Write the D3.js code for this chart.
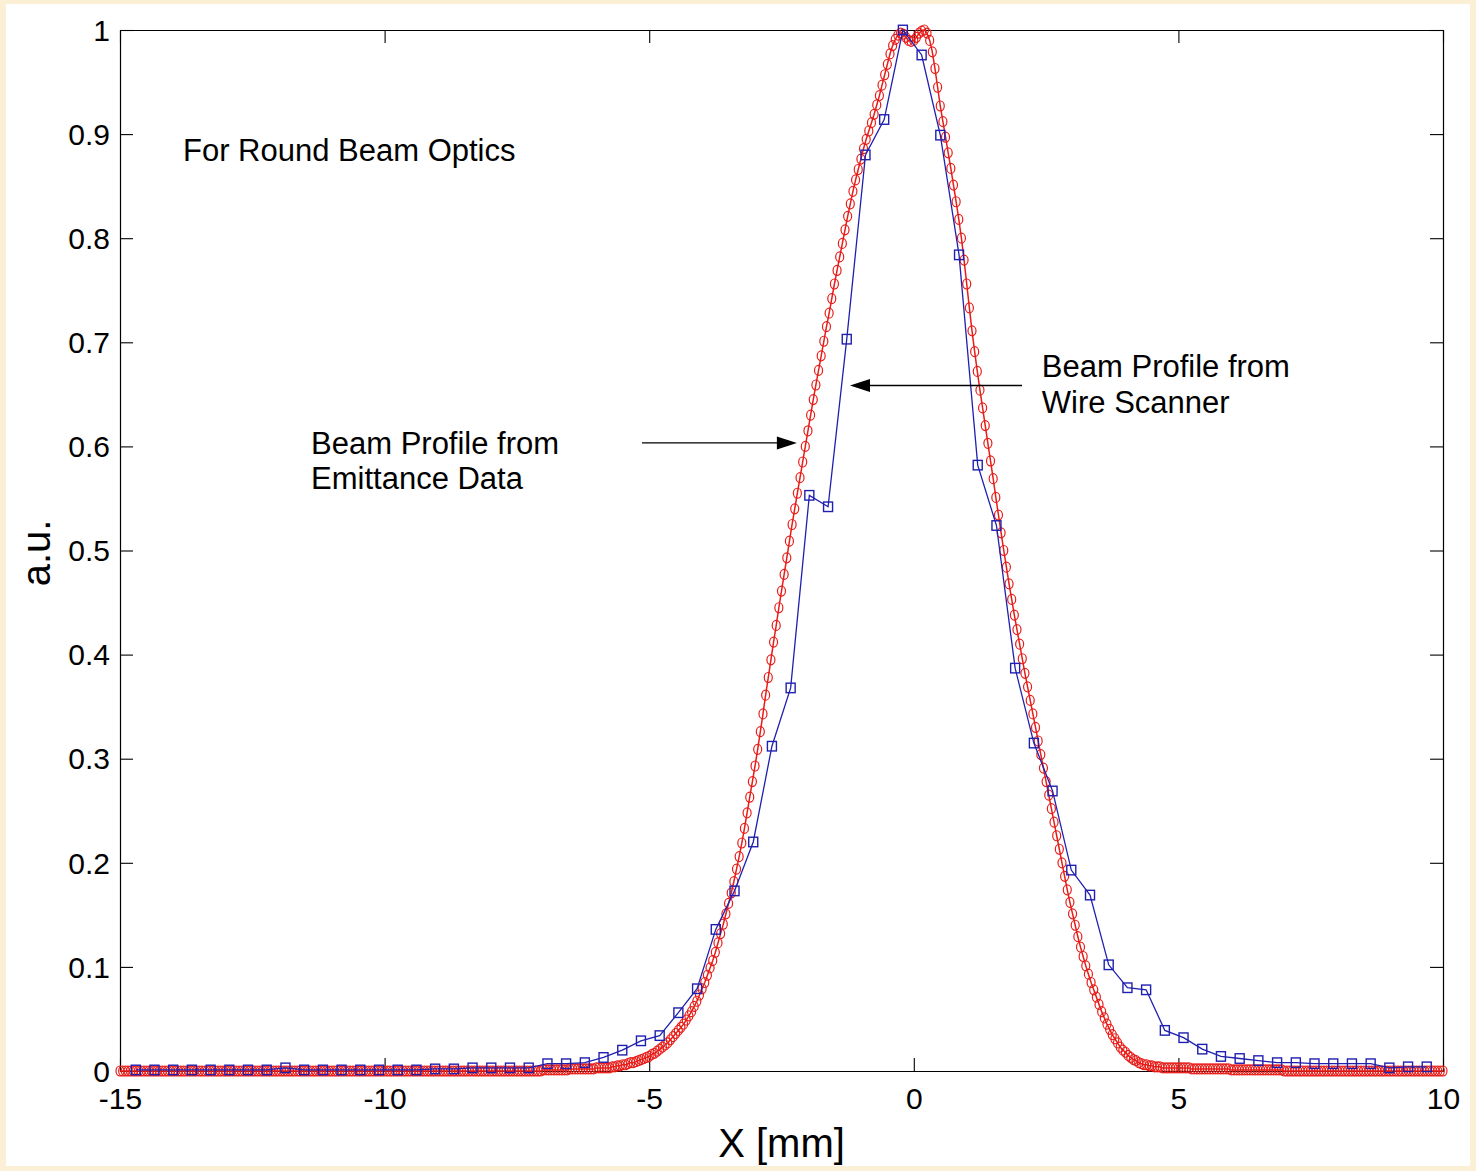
<!DOCTYPE html>
<html><head><meta charset="utf-8">
<script src="https://cdn.jsdelivr.net/npm/d3@7"></script>
<style>
html,body{margin:0;padding:0;background:#fbefd6;}
svg{display:block;}
</style>
</head><body>
<svg id="chart" width="1476" height="1171"></svg>
<script>
// ---------- DATA ----------
// Beam profile from emittance data (red circles), sampled every 0.05 mm from -15 mm
const redX0 = -15;
const redStep = 0.05;
const redValues = [
0,0,0,0,0,0,0,0,0,0, 0,0,0,0,0,0,0,0,0,0,
0,0,0,0,0,0,0,0,0,0, 0,0,0,0,0,0,0,0,0,0,
0,0,0,0,0,0,0,0,0,0, 0,0,0,0,0,0,0,0,0,0,
0,0,0,0,0,0,0,0,0,0, 0,0,0,0,0,0,0,0,0,0,
0,0,0,0,0,0,0,0,0,0, 0,0,0,0,0,0,0,0,0,0,
0,0,0,0,0,0,0,0,0,0, 0,0,0,0,0,0,0,0,0,0,
0,0,0,0,0,0,0,0,0,0, 0,0,0,0,0,0,0,0,0,0,
0,0,0,0,0,0,0,0,0,0, 0,0,0,0,0,0,0,0,0,0,
0.001,0.001,0.001,0.001,0.001,0.001,0.001,0.001,0.001,0.001,
0.002,0.002,0.002,0.002,0.002,0.002,0.002,0.002,0.002,0.002,
0.003,0.003,0.003,0.003,0.003,0.003,
0.004,0.004,0.005,0.005,0.006,0.006,0.007,0.008,0.008,0.009,0.010,0.011,0.012,0.013,
0.014,0.016,0.017,0.019,0.021,0.023,0.025,0.027,0.030,0.033,0.036,0.039,0.042,0.045,0.049,0.053,0.057,0.062,0.067,0.073,
0.079,0.085,0.092,0.099,0.106,0.114,0.123,0.132,0.141,0.151,0.161,0.171,0.182,0.194,0.206,0.219,0.233,0.248,0.263,0.278,
0.293,0.309,0.326,0.343,0.361,0.378,0.395,0.412,0.428,0.445,0.461,0.477,0.493,0.509,0.525,0.540,0.555,0.570,0.585,0.600,
0.615,0.630,0.645,0.659,0.673,0.687,0.701,0.715,0.728,0.742,0.756,0.769,0.782,0.795,0.808,0.821,0.833,0.845,0.856,0.866,
0.876,0.886,0.895,0.903,0.911,0.919,0.928,0.937,0.947,0.957,0.967,0.977,0.985,0.991,0.995,0.997,0.996,0.993,0.990,0.989,
0.990,0.993,0.997,0.999,1.000,0.997,0.990,0.979,0.963,0.945,0.927,0.912,0.897,0.882,0.867,0.851,0.835,0.818,0.800,0.779,
0.756,0.733,0.711,0.691,0.672,0.654,0.637,0.620,0.603,0.586,0.569,0.551,0.534,0.517,0.500,0.484,0.468,0.453,0.438,0.424,
0.410,0.396,0.382,0.369,0.356,0.343,0.330,0.317,0.304,0.291,0.278,0.265,0.252,0.239,0.226,0.213,0.200,0.187,0.174,0.162,
0.151,0.140,0.129,0.119,0.110,0.101,0.093,0.085,0.078,0.071,0.064,0.057,0.051,0.045,0.040,0.035,0.031,0.027,0.023,0.020,
0.018,0.015,0.013,0.011,0.010,0.008,0.007,0.006,0.006,0.005,0.005,0.004,0.004,0.004,
0.003,0.003,0.003,0.003,0.003,0.003,0.003,0.003,0.003,0.003,0.003,
0.002,0.002,0.002,0.002,0.002,0.002,0.002,0.002,0.002,0.002,0.002,0.002,0.002,0.002,0.002,
0.001,0.001,0.001,0.001,0.001,0.001,0.001,0.001,0.001,0.001,
0.001,0.001,0.001,0.001,0.001,0.001,0.001,0.001,0.001,0.001,
0,0,0,0,0,0,0,0,0,0, 0,0,0,0,0,0,0,0,0,0,
0,0,0,0,0,0,0,0,0,0, 0,0,0,0,0,0,0,0,0,0,
0,0,0,0,0,0,0,0,0,0, 0,0,0,0,0,0,0,0,0,0,
0
];

// Beam profile from wire scanner (blue squares)
const blueX = [
-14.702,-14.348,-13.994,-13.641,-13.287,-12.934,-12.580,-12.227,-11.873,-11.520,
-11.166,-10.813,-10.459,-10.105,-9.752,-9.398,-9.045,-8.691,-8.338,-7.984,
-7.631,-7.277,-6.923,-6.570,-6.216,-5.863,-5.509,-5.156,-4.802,-4.449,
-4.095,-3.742,-3.388,-3.034,-2.681,-2.327,-1.974,-1.620,-1.267,-0.913,
-0.560,-0.206,0.148,0.501,0.855,1.208,1.562,1.915,2.269,2.622,
2.976,3.330,3.683,4.037,4.390,4.744,5.097,5.451,5.804,6.158,
6.511,6.865,7.219,7.572,7.926,8.279,8.633,8.986,9.340,9.693
];
const blueValues = [
0.001,0.001,0.001,0.001,0.001,0.001,0.001,0.001,0.003,0.001,
0.001,0.001,0.001,0.001,0.001,0.001,0.002,0.002,0.003,0.003,
0.003,0.003,0.007,0.007,0.008,0.013,0.020,0.029,0.034,0.056,
0.079,0.136,0.173,0.220,0.312,0.368,0.553,0.542,0.703,0.880,
0.914,1.000,0.976,0.899,0.784,0.582,0.524,0.387,0.315,0.269,
0.193,0.169,0.102,0.080,0.078,0.039,0.032,0.021,0.014,0.012,
0.010,0.008,0.008,0.007,0.007,0.007,0.007,0.003,0.004,0.004
];

const xTicks = [-15,-10,-5,0,5,10];
const xTickLabels = ["-15","-10","-5","0","5","10"];
const yTicks = [0,0.1,0.2,0.3,0.4,0.5,0.6,0.7,0.8,0.9,1];
const yTickLabels = ["0","0.1","0.2","0.3","0.4","0.5","0.6","0.7","0.8","0.9","1"];

const xLabel = "X [mm]";
const yLabel = "a.u.";
const noteTitle = "For Round Beam Optics";
const noteEmittance = ["Beam Profile from","Emittance Data"];
const noteWire = ["Beam Profile from","Wire Scanner"];

// ---------- DRAW ----------
(function(){
const W = 1476, H = 1171;
const pL = 120, pR = 1443, pT = 30, pB = 1071;
const FONT = "'Liberation Sans', Arial, Helvetica, sans-serif";
const RED = "#e81c18", BLUE = "#2020b0";

const svg = d3.select("#chart");
svg.append("rect").attr("x",0).attr("y",0).attr("width",W).attr("height",H).attr("fill","#fbefd6");
svg.append("rect").attr("x",6).attr("y",4).attr("width",W-12).attr("height",H-9).attr("fill","#ffffff");

const x = d3.scaleLinear().domain([-15,10]).range([pL,pR]);
const y = d3.scaleLinear().domain([0,1]).range([pB,pT]);

const redData = redValues.map((v,i)=>({x: redX0 + i*redStep, y: v}));
const blueData = blueValues.map((v,i)=>({x: blueX[i], y: v}));

function styleAxis(g){
  g.select(".domain").attr("stroke","#000").attr("stroke-width",1.2);
  g.selectAll(".tick line").attr("stroke","#000").attr("stroke-width",1.1);
  g.selectAll(".tick text").attr("fill","#000").style("font-family",FONT).style("font-size","30px");
}
const gx = svg.append("g").attr("transform",`translate(0,${pB})`)
  .call(d3.axisBottom(x).tickValues(xTicks).tickFormat((d,i)=>xTickLabels[i]).tickSizeInner(-13).tickSizeOuter(0).tickPadding(17));
styleAxis(gx);
const gxt = svg.append("g").attr("transform",`translate(0,${pT})`)
  .call(d3.axisTop(x).tickValues(xTicks).tickFormat("").tickSizeInner(-13).tickSizeOuter(0));
styleAxis(gxt);
const gy = svg.append("g").attr("transform",`translate(${pL},0)`)
  .call(d3.axisLeft(y).tickValues(yTicks).tickFormat((d,i)=>yTickLabels[i]).tickSizeInner(-13).tickSizeOuter(0).tickPadding(10));
styleAxis(gy);
gy.selectAll(".tick text").attr("dy","0.34em");
const gyr = svg.append("g").attr("transform",`translate(${pR},0)`)
  .call(d3.axisRight(y).tickValues(yTicks).tickFormat("").tickSizeInner(-13).tickSizeOuter(0));
styleAxis(gyr);

const line = d3.line().x(d=>x(d.x)).y(d=>y(d.y));
svg.append("path").datum(redData).attr("d",line)
  .attr("fill","none").attr("stroke",RED).attr("stroke-width",1.5);
svg.append("g").selectAll("ellipse").data(redData).join("ellipse")
  .attr("cx",d=>x(d.x)).attr("cy",d=>y(d.y)).attr("rx",4).attr("ry",5)
  .attr("fill","none").attr("stroke",RED).attr("stroke-width",1.2);

svg.append("path").datum(blueData).attr("d",line)
  .attr("fill","none").attr("stroke",BLUE).attr("stroke-width",1.3);
svg.append("g").selectAll("rect").data(blueData).join("rect")
  .attr("x",d=>x(d.x)-4.5).attr("y",d=>y(d.y)-4.75).attr("width",9).attr("height",9.5)
  .attr("fill","none").attr("stroke",BLUE).attr("stroke-width",1.4);

svg.append("text").attr("x",(pL+pR)/2).attr("y",1157).attr("text-anchor","middle")
  .style("font-family",FONT).style("font-size","40px").text(xLabel);
svg.append("text").attr("transform","translate(50,553) rotate(-90)").attr("text-anchor","middle")
  .style("font-family",FONT).style("font-size","40px").text(yLabel);

function note(lines, xv, yv, lh){
  const t = svg.append("text").attr("x",x(xv)).attr("y",y(yv))
    .style("font-family",FONT).style("font-size","31px").attr("fill","#000");
  lines.forEach((s,i)=>t.append("tspan").attr("x",x(xv)).attr("dy", i===0?0:lh).text(s));
}
note([noteTitle], -13.81, 0.874, 0);
note(noteEmittance, -11.39, 0.593, 35);
note(noteWire, 2.42, 0.667, 36);

function arrow(x1v, x2v, yv){
  const x1 = x(x1v), x2 = x(x2v), yy = y(yv);
  const dir = Math.sign(x2-x1);
  svg.append("line").attr("x1",x1).attr("y1",yy).attr("x2",x2 - dir*18).attr("y2",yy)
    .attr("stroke","#000").attr("stroke-width",1.3);
  svg.append("path")
    .attr("d",`M${x2},${yy} L${x2-dir*20},${yy-6.5} L${x2-dir*20},${yy+6.5} Z`)
    .attr("fill","#000");
}
arrow(-5.136, -2.209, 0.6033);
arrow(2.045, -1.206, 0.6585);
})();
</script>
</body></html>
